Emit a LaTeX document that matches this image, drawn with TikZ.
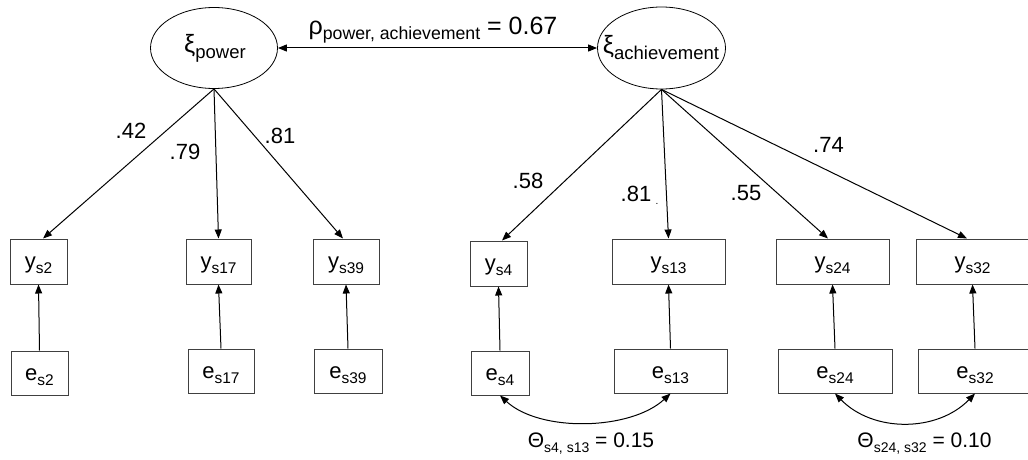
\documentclass[tikz,border=0pt]{standalone}
\usepackage{fontspec}
\setmainfont{Liberation Sans}
\usetikzlibrary{shapes.geometric,arrows.meta}
\newcommand\lsub[3]{\raisebox{-#1}{\fontsize{#2}{#2}\selectfont #3}}
\begin{document}
\begin{tikzpicture}[x=1pt,y=-1pt,
  every node/.style={font=\fontsize{22}{26}\selectfont},
  obs/.style={draw=black!75, line width=1pt, rectangle, inner sep=0pt, text height=29pt, text depth=16pt},
  res/.style={obs, text depth=15pt},
  lat/.style={draw=black, line width=0.8pt, ellipse, inner sep=0pt, minimum width=127pt, minimum height=81pt},
  loadarr/.style={line width=1pt, -{Triangle[length=9pt,width=7pt]}},
  biarr/.style={line width=1pt, {Triangle[length=9pt,width=7pt]}-{Triangle[length=9pt,width=7pt]}},
  coef/.style={inner sep=0pt}
]
\useasboundingbox (0,0) rectangle (1028,460);

% latent variables
\node[lat] (pw) at (214,48) {};
\node[anchor=center] (pwt) at (215,48) {\fontsize{25}{30}\selectfont ξ\lsub{6pt}{18.5}{power}};
\node[lat, minimum width=128pt, minimum height=82pt] (ach) at (661.5,48) {};
\node[anchor=center] (acht) at (661,48) {\fontsize{25}{30}\selectfont ξ\lsub{6pt}{18.5}{achievement}};

% observed
\node[obs, minimum width=57pt] (ys2) at (38.5,261.5) {y\lsub{5pt}{15.5}{s2}};
\node[obs, minimum width=65pt] (ys17) at (218.5,261.5) {y\lsub{5pt}{15.5}{s17}};
\node[obs, minimum width=66pt] (ys39) at (346,261.5) {y\lsub{5pt}{15.5}{s39}};
\node[obs, minimum width=57pt] (ys4) at (498.5,263.5) {y\lsub{5pt}{15.5}{s4}};
\node[obs, minimum width=113pt] (ys13) at (668.5,261.5) {y\lsub{5pt}{15.5}{s13}};
\node[obs, minimum width=113pt] (ys24) at (832.5,261.5) {y\lsub{5pt}{15.5}{s24}};
\node[obs, minimum width=113pt] (ys32) at (972.5,261.5) {y\lsub{5pt}{15.5}{s32}};

% residuals
\node[res, minimum width=57pt] (es2) at (39.5,373) {e\lsub{5pt}{15.5}{s2}};
\node[res, minimum width=66pt] (es17) at (221,371) {e\lsub{5pt}{15.5}{s17}};
\node[res, minimum width=68pt] (es39) at (348,371) {e\lsub{5pt}{15.5}{s39}};
\node[res, minimum width=58pt] (es4) at (500,373) {e\lsub{5pt}{15.5}{s4}};
\node[res, minimum width=113pt] (es13) at (670.5,371) {e\lsub{5pt}{15.5}{s13}};
\node[res, minimum width=114pt] (es24) at (835,371) {e\lsub{5pt}{15.5}{s24}};
\node[res, minimum width=114pt] (es32) at (975,371) {e\lsub{5pt}{15.5}{s32}};

% correlation between latents
\draw[biarr] (pw.east) -- (ach.west);
\node[anchor=base] (rho) at (433,35) {\fontsize{25}{30}\selectfont ρ\lsub{5pt}{17.7}{power, achievement} = 0.67};

% loadings
\draw[loadarr] (pw.south) -- ([xshift=4.5pt]ys2.north);
\draw[loadarr] (pw.south) -- (ys17.north);
\draw[loadarr] (pw.south) -- ([xshift=-3pt]ys39.north);
\draw[loadarr] (ach.south) -- ([xshift=3.5pt]ys4.north);
\draw[loadarr] (ach.south) -- (ys13.north);
\draw[loadarr] (ach.south) -- ([xshift=-4.5pt]ys24.north);
\draw[loadarr] (ach.south) -- ([xshift=-5.5pt]ys32.north);

\node[coef] (l42) at (131,130.5) {.42};
\node[coef] (l79) at (185,152) {.79};
\node[coef] (l81a) at (280,136) {.81};
\node[coef] (l58) at (528,181) {.58};
\node[coef] (l81b) at (636,193.5) {.81};
\node[coef] (dot) at (657,204) {\fontsize{10}{10}\selectfont .};
\node[coef] (l55) at (746,193.5) {.55};
\node[coef] (l74) at (828.5,145) {.74};

% residual paths
\draw[loadarr] (es2.north) -- (ys2.south);
\draw[loadarr] (es17.north) -- (ys17.south);
\draw[loadarr] (es39.north) -- (ys39.south);
\draw[loadarr] (es4.north) -- (ys4.south);
\draw[loadarr] (es13.north) -- (ys13.south);
\draw[loadarr] (es24.north) -- (ys24.south);
\draw[loadarr] (es32.north) -- (ys32.south);

% residual covariances
\draw[biarr] (es4.south) .. controls +(40,37) and +(-40,37) .. (es13.south);
\draw[biarr] (es24.south) .. controls +(38,39) and +(-38,39) .. (es32.south);
\node[anchor=base] (th1) at (591,447) {\fontsize{21}{25}\selectfont Θ\lsub{5pt}{14}{s4, s13} = 0.15};
\node[anchor=base] (th2) at (924.5,447) {\fontsize{21}{25}\selectfont Θ\lsub{5pt}{14}{s24, s32} = 0.10};
\end{tikzpicture}
\end{document}
